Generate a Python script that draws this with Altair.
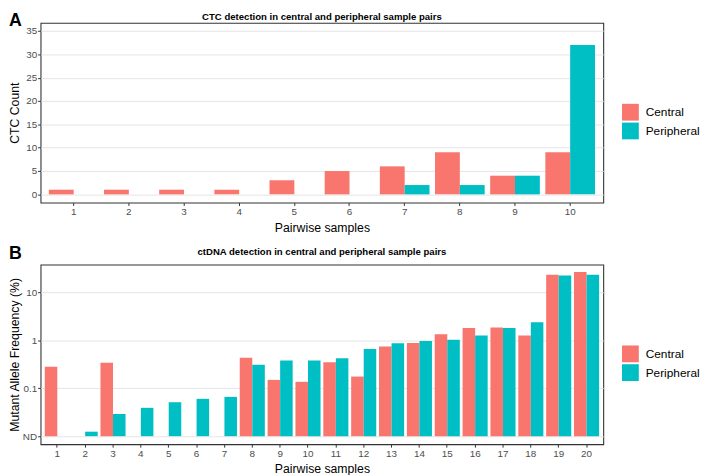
import altair as alt
import pandas as pd

groups = ["Central", "Peripheral"]
colors = ["#F8766D", "#00BFC4"]

ctc_samples = [1, 2, 3, 4, 5, 6, 7, 8, 9, 10]
ctc_central = [1, 1, 1, 1, 3, 5, 6, 9, 4, 9]
ctc_peripheral = [0, 0, 0, 0, 0, 0, 2, 2, 4, 32]

dna_samples = [1, 2, 3, 4, 5, 6, 7, 8, 9, 10, 11, 12, 13, 14, 15, 16, 17, 18, 19, 20]
dna_central = [0.28, None, 0.34, None, None, None, None, 0.43, 0.149, 0.136,
               0.35, 0.175, 0.74, 0.88, 1.33, 1.8, 1.85, 1.25, 23.2, 26.7]
dna_peripheral = [None, 0.0124, 0.029, 0.039, 0.051, 0.060, 0.066, 0.31, 0.38, 0.38,
                  0.42, 0.66, 0.87, 0.97, 1.03, 1.25, 1.8, 2.39, 22.4, 23.2]

ctc_ticks = [0, 5, 10, 15, 20, 25, 30, 35]
dna_ticks = [0.01, 0.1, 1, 10]

title_a = "CTC detection in central and peripheral sample pairs"
title_b = "ctDNA detection in central and peripheral sample pairs"

FONT = "Liberation Sans"
W, H = 570, 182


def long_df(samples, central, peripheral):
    rows = []
    for s, c, p in zip(samples, central, peripheral):
        if c is not None:
            rows.append({"sample": s, "group": "Central", "value": c})
        if p is not None:
            rows.append({"sample": s, "group": "Peripheral", "value": p})
    return pd.DataFrame(rows)


def annotations(letter, title, letter_y, title_y):
    df = pd.DataFrame({"letter": [letter], "title": [title]})
    base = alt.Chart(df)
    l = base.mark_text(font=FONT, fontSize=18, fontWeight="bold", align="left",
                       baseline="alphabetic", color="black").encode(
        text="letter:N", x=alt.value(-32), y=alt.value(letter_y))
    t = base.mark_text(font=FONT, fontSize=9.7, fontWeight="bold", align="center",
                       baseline="middle", color="black").encode(
        text="title:N", x=alt.value(W / 2), y=alt.value(title_y))
    return l, t


legend = alt.Legend(title=None, orient="none", legendX=589, legendY=82,
                    symbolType="square", symbolSize=289, symbolStrokeWidth=0,
                    symbolOpacity=1, labelFont=FONT, labelFontSize=12,
                    labelColor="black", rowPadding=2, labelOffset=7, padding=0)

color = alt.Color("group:N", scale=alt.Scale(domain=groups, range=colors), legend=legend)
xoff = alt.XOffset("group:N", scale=alt.Scale(domain=groups, paddingInner=0, paddingOuter=0.111))

# Panel A
df_a = long_df(ctc_samples, ctc_central, ctc_peripheral)
bars_a = alt.Chart(df_a).mark_bar().encode(
    x=alt.X("sample:O", title="Pairwise samples",
            scale=alt.Scale(paddingInner=0, paddingOuter=0.1)),
    xOffset=xoff,
    y=alt.Y("value:Q", title="CTC Count",
            scale=alt.Scale(domain=[-1.75, 36.75], nice=False, zero=False),
            axis=alt.Axis(values=ctc_ticks, format="d")),
    color=color,
)
la, ta = annotations("A", title_a, 3.5, -5.5)
panel_a = alt.layer(bars_a, la, ta).properties(width=W, height=H)

# Panel B
df_b = long_df(dna_samples, dna_central, dna_peripheral)
bars_b = alt.Chart(df_b).mark_bar().encode(
    x=alt.X("sample:O", title="Pairwise samples",
            scale=alt.Scale(paddingInner=0, paddingOuter=0.1)),
    xOffset=xoff,
    y=alt.Y("value:Q", title="Mutant Allele Frequency (%)",
            scale=alt.Scale(type="log", domain=[0.0068, 38], nice=False),
            axis=alt.Axis(values=dna_ticks,
                          labelExpr="datum.value < 0.05 ? 'ND' : format(datum.value, '~g')")),
    y2=alt.datum(0.01),
    color=color,
)
lb, tb = annotations("B", title_b, -5.7, -12.3)
panel_b = alt.layer(bars_b, lb, tb).properties(width=W, height=H)

chart = alt.vconcat(panel_a, panel_b, spacing=9.8).resolve_scale(
    color="independent", x="independent", y="independent", xOffset="independent"
).configure(
    padding=0
).configure_view(
    stroke="#333333", strokeWidth=1.1
).configure_axis(
    labelFont=FONT, labelFontSize=10, labelColor="#4D4D4D",
    titleFont=FONT, titleFontSize=12.4, titleFontWeight="normal", titleColor="black",
    titleBaseline="middle",
    tickColor="#333333", tickSize=3, domain=False,
    gridColor="#E5E5E5", gridWidth=1, labelPadding=1,
).configure_axisX(
    grid=False, labelAngle=0, titleY=25,
).configure_axisY(
    titleX=-26,
)

chart.save("out.html", embed_options={"renderer": "svg", "actions": False})
